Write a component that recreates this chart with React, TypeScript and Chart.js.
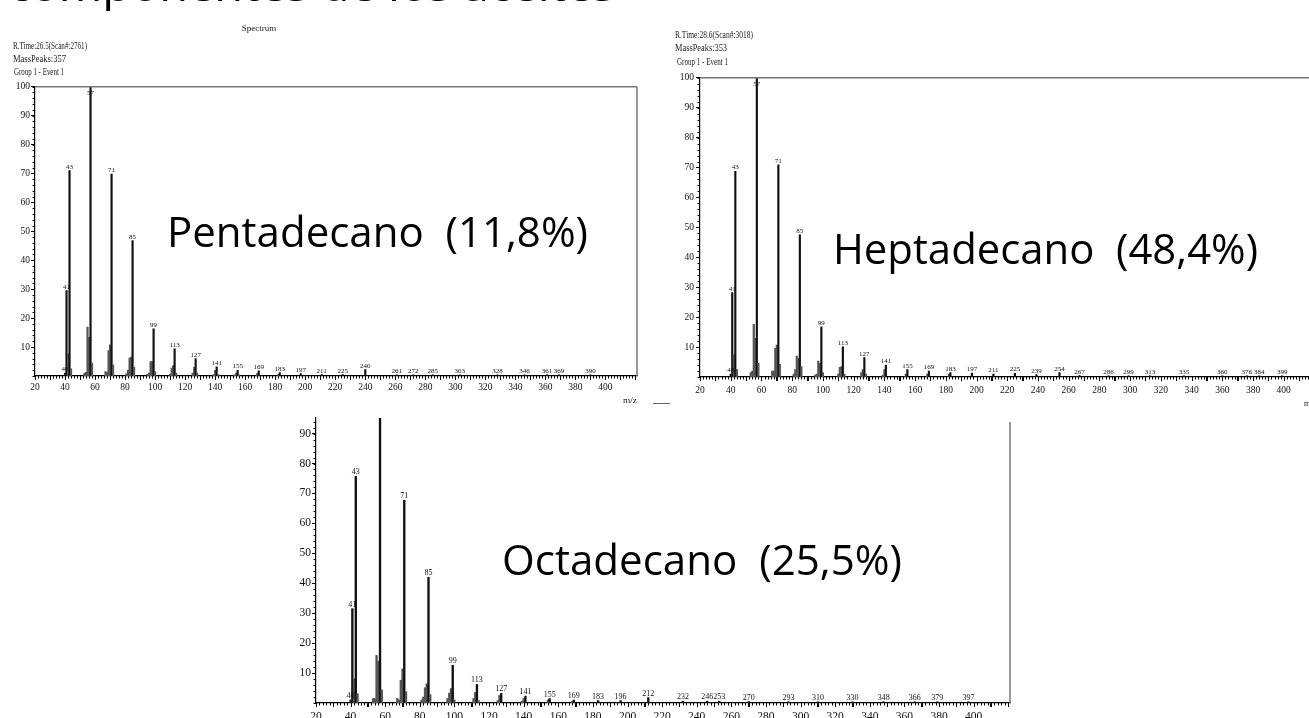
import React, { useEffect, useRef } from 'react';
import { Chart, registerables } from 'chart.js';

Chart.register(...registerables);

// ---------- axis tick labels ----------
const xTickValues = [20, 40, 60, 80, 100, 120, 140, 160, 180, 200, 220, 240, 260, 280, 300, 320, 340, 360, 380, 400];
const yTickValuesTop = [10, 20, 30, 40, 50, 60, 70, 80, 90, 100];
const yTickValuesBottom = [10, 20, 30, 40, 50, 60, 70, 80, 90];

// ---------- Pentadecano (11,8%) ----------
const pentaMz = [40, 41, 42, 43, 44, 53, 54, 55, 56, 57, 58, 67, 68, 69, 70, 71, 72, 81, 82, 83, 84, 85, 86, 95, 96, 97, 98, 99, 100, 110, 111, 112, 113, 114, 125, 126, 127, 128, 139, 140, 141, 142, 153, 154, 155, 156, 168, 169, 182, 183, 197, 211, 225, 240, 261, 272, 285, 303, 328, 346, 361, 369, 390];
const pentaInt = [1.0, 29.5, 7.7, 71, 2.5, 1, 1.3, 16.9, 13.4, 100, 4.5, 1.5, 1.2, 8.8, 10.8, 69.8, 3.9, 0.8, 2, 6.2, 6.5, 46.8, 3, 0.6, 1, 5, 5, 16.3, 1.5, 0.6, 2.7, 3.6, 9.4, 1, 1, 3, 6, 1, 0.5, 2, 3.2, 0.5, 0.4, 1, 2, 0.4, 0.8, 1.8, 0.5, 1.2, 0.8, 0.5, 0.5, 2.2, 0.4, 0.4, 0.4, 0.4, 0.4, 0.4, 0.4, 0.4, 0.4];
const pentaLabels = [40, 41, 43, 57, 71, 85, 99, 113, 127, 141, 155, 169, 183, 197, 211, 225, 240, 261, 272, 285, 303, 328, 346, 361, 369, 390];

// ---------- Heptadecano (48,4%) ----------
const heptaMz = [40, 41, 42, 43, 44, 53, 54, 55, 56, 57, 58, 67, 68, 69, 70, 71, 72, 81, 82, 83, 84, 85, 86, 95, 96, 97, 98, 99, 100, 110, 111, 112, 113, 114, 125, 126, 127, 128, 139, 140, 141, 154, 155, 168, 169, 182, 183, 197, 211, 225, 239, 254, 267, 286, 299, 313, 335, 360, 376, 384, 399];
const heptaInt = [1, 28.2, 7.4, 68.7, 2.6, 1.5, 2, 17.6, 12.9, 100, 4.6, 2, 2, 9.6, 10.7, 70.9, 4.2, 1, 2.5, 7, 6.2, 47.5, 3.5, 0.6, 1, 5.3, 4.6, 16.8, 1.5, 1, 3.2, 3.5, 10.1, 1, 1.5, 2.5, 6.5, 1, 0.6, 2.5, 4, 1, 2.5, 1, 2, 1, 1.5, 1.3, 1, 1.2, 0.8, 1.5, 0.5, 0.4, 0.4, 0.4, 0.4, 0.4, 0.4, 0.4, 0.4];
const heptaLabels = [40, 41, 43, 57, 71, 85, 99, 113, 127, 141, 155, 169, 183, 197, 211, 225, 239, 254, 267, 286, 299, 313, 335, 360, 376, 384, 399];

// ---------- Octadecano (25,5%) ----------
const octaMz = [40, 41, 42, 43, 44, 53, 54, 55, 56, 57, 58, 67, 68, 69, 70, 71, 72, 81, 82, 83, 84, 85, 86, 96, 97, 98, 99, 100, 111, 112, 113, 114, 125, 126, 127, 139, 140, 141, 154, 155, 168, 169, 183, 196, 212, 232, 246, 253, 270, 293, 310, 330, 348, 366, 379, 397];
const octaInt = [1, 31.5, 8.1, 75.7, 3.1, 1.5, 1.5, 15.9, 14, 100, 4.4, 1.5, 1, 7.6, 11.4, 67.7, 3.8, 1, 2, 5.1, 6.4, 42, 2.8, 1.5, 3.3, 4.8, 12.6, 1, 1.5, 3.5, 6.2, 0.8, 0.8, 2.5, 3.2, 0.6, 1.5, 2.3, 1, 1.5, 0.6, 1, 0.8, 0.8, 1.8, 0.6, 0.6, 0.6, 0.5, 0.4, 0.4, 0.4, 0.4, 0.4, 0.4, 0.4];
const octaLabels = [40, 41, 43, 57, 71, 85, 99, 113, 127, 141, 155, 169, 183, 196, 212, 232, 246, 253, 270, 293, 310, 330, 348, 366, 379, 397];

type Panel = {
  id: string;
  mz: number[];
  ints: number[];
  labels: number[];
  yTicks: number[];
  left: number; top: number; width: number; height: number;
  yAxisW: number; xAxisH: number; padTop: number; padRight: number;
  xMax: number; yMax: number;
  tickFont: number; labelFont: number; barW: number;
  xPad: number; yPad: number;
  topBorder: boolean; rightBorderFrom: number;
};

const panels: Panel[] = [
  {
    id: 'penta', mz: pentaMz, ints: pentaInt, labels: pentaLabels, yTicks: yTickValuesTop,
    left: 0, top: 80, width: 660, height: 330,
    yAxisW: 35, xAxisH: 34, padTop: 6, padRight: 23,
    xMax: 421, yMax: 100, tickFont: 9.5, labelFont: 7, barW: 1.5, xPad: 2, yPad: 1,
    topBorder: true, rightBorderFrom: 0,
  },
  {
    id: 'hepta', mz: heptaMz, ints: heptaInt, labels: heptaLabels, yTicks: yTickValuesTop,
    left: 660, top: 70, width: 680, height: 340,
    yAxisW: 40, xAxisH: 33, padTop: 7, padRight: 24,
    xMax: 421, yMax: 100, tickFont: 9.5, labelFont: 7, barW: 1.5, xPad: 4, yPad: 2,
    topBorder: true, rightBorderFrom: 0,
  },
  {
    id: 'octa', mz: octaMz, ints: octaInt, labels: octaLabels, yTicks: yTickValuesBottom,
    left: 270, top: 400, width: 760, height: 318,
    yAxisW: 46, xAxisH: 15, padTop: 18, padRight: 20,
    xMax: 421, yMax: 95.2, tickFont: 11.5, labelFont: 8, barW: 1.7, xPad: 3, yPad: 1,
    topBorder: false, rightBorderFrom: 4,
  },
];

function makePlugin(p: Panel) {
  return {
    id: 'spectrum-' + p.id,
    afterDatasetsDraw(chart: any) {
      const { ctx, chartArea } = chart;
      const xs = chart.scales.x;
      const ys = chart.scales.y;
      ctx.save();
      // frame (grey top / right border)
      ctx.strokeStyle = '#777';
      ctx.lineWidth = 1.5;
      ctx.beginPath();
      if (p.topBorder) {
        ctx.moveTo(chartArea.left, chartArea.top);
        ctx.lineTo(chartArea.right, chartArea.top);
      }
      ctx.moveTo(chartArea.right, chartArea.top + p.rightBorderFrom);
      ctx.lineTo(chartArea.right, chartArea.bottom);
      ctx.stroke();
      // minor x ticks
      ctx.strokeStyle = '#000';
      ctx.lineWidth = 1;
      ctx.beginPath();
      for (let v = 20; v <= p.xMax; v += 2) {
        const px = Math.round(xs.getPixelForValue(v)) + 0.5;
        const len = v % 10 === 0 ? 4 : 2.5;
        ctx.moveTo(px, chartArea.bottom);
        ctx.lineTo(px, chartArea.bottom + len);
      }
      // minor y ticks
      for (let v = 0; v <= p.yMax; v += 2) {
        const py = Math.round(ys.getPixelForValue(v)) + 0.5;
        ctx.moveTo(chartArea.left - 2.5, py);
        ctx.lineTo(chartArea.left, py);
      }
      ctx.stroke();
      // peak labels
      ctx.fillStyle = '#111';
      ctx.font = `${p.labelFont}px "Liberation Serif", serif`;
      ctx.textAlign = 'center';
      ctx.textBaseline = 'alphabetic';
      p.labels.forEach((m) => {
        const i = p.mz.indexOf(m);
        if (i < 0) return;
        const val = p.ints[i];
        if (val > p.yMax) return;
        const px = xs.getPixelForValue(m);
        let py = ys.getPixelForValue(val) - 2;
        if (py < chartArea.top + p.labelFont + 1) py = chartArea.top + p.labelFont + 1;
        ctx.fillText(String(m), px, py);
      });
      ctx.restore();
    },
  };
}

function SpectrumChart({ p }: { p: Panel }) {
  const ref = useRef<HTMLCanvasElement | null>(null);
  useEffect(() => {
    if (!ref.current) return;
    const labeledSet = new Set(p.labels);
    const points = p.mz.map((m, i) => ({ x: m, y: p.ints[i] }));
    const chart = new Chart(ref.current, {
      type: 'bar',
      data: {
        datasets: [
          {
            data: points as any,
            backgroundColor: (c: any) => (labeledSet.has(p.mz[c.dataIndex]) ? '#111' : '#555'),
            barThickness: p.barW,
            borderWidth: 0,
          },
        ],
      },
      options: {
        animation: false,
        responsive: false,
        maintainAspectRatio: false,
        layout: { padding: { top: p.padTop, right: p.padRight, bottom: 0, left: 0 } },
        plugins: { legend: { display: false }, tooltip: { enabled: false } },
        scales: {
          x: {
            type: 'linear',
            min: 20,
            max: p.xMax,
            offset: false,
            afterBuildTicks: (s: any) => {
              s.ticks = xTickValues.map((v) => ({ value: v }));
            },
            afterFit: (s: any) => {
              s.height = p.xAxisH;
            },
            grid: { drawOnChartArea: false, drawTicks: true, tickLength: 4, color: '#000', lineWidth: 1 },
            border: { display: true, color: '#000', width: 1.2 },
            ticks: {
              autoSkip: false,
              maxRotation: 0,
              padding: p.xPad,
              color: '#111',
              font: { family: '"Liberation Serif", serif', size: p.tickFont },
              callback: (v: any) => String(v),
            },
          },
          y: {
            type: 'linear',
            min: 0,
            max: p.yMax,
            afterBuildTicks: (s: any) => {
              s.ticks = p.yTicks.map((v) => ({ value: v }));
            },
            afterFit: (s: any) => {
              s.width = p.yAxisW;
            },
            grid: { drawOnChartArea: false, drawTicks: true, tickLength: 4, color: '#000', lineWidth: 1 },
            border: { display: true, color: '#000', width: 1.2 },
            ticks: {
              autoSkip: false,
              padding: p.yPad,
              color: '#111',
              font: { family: '"Liberation Serif", serif', size: p.tickFont },
              callback: (v: any) => String(v),
            },
          },
        },
      } as any,
      plugins: [makePlugin(p) as any],
    });
    return () => chart.destroy();
  }, [p]);
  return (
    <canvas
      ref={ref}
      width={p.width}
      height={p.height}
      style={{ position: 'absolute', left: p.left, top: p.top, width: p.width, height: p.height }}
    />
  );
}

const serif = '"Liberation Serif", serif';
const sans = '"Open Sans", "Liberation Sans", sans-serif';

export default function App() {
  return (
    <div
      style={{
        position: 'fixed',
        left: 0,
        top: 0,
        width: 1309,
        height: 718,
        overflow: 'hidden',
        background: '#fff',
      }}
    >
      {panels.map((p) => (
        <SpectrumChart key={p.id} p={p} />
      ))}
      <svg
        width={1309}
        height={718}
        style={{ position: 'absolute', left: 0, top: 0, pointerEvents: 'none' }}
      >
        {/* cut-off slide title */}
        <text x={8} y={0.5} fontFamily={sans} fontSize={40} fill="#000" textLength={607} lengthAdjust="spacingAndGlyphs">
          componentes de los aceites
        </text>
        {/* panel 1 header */}
        <text x={259} y={31} fontFamily={serif} fontSize={9} fill="#222" textAnchor="middle">Spectrum</text>
        <text x={13} y={49} fontFamily={serif} fontSize={10} fill="#222" textLength={74} lengthAdjust="spacingAndGlyphs">R.Time:26.5(Scan#:2761)</text>
        <text x={13} y={62} fontFamily={serif} fontSize={10} fill="#222" textLength={53} lengthAdjust="spacingAndGlyphs">MassPeaks:357</text>
        <text x={14} y={75} fontFamily={serif} fontSize={10} fill="#222" textLength={50} lengthAdjust="spacingAndGlyphs">Group 1 - Event 1</text>
        <text x={623} y={403} fontFamily={serif} fontSize={8} fill="#222" textLength={14} lengthAdjust="spacingAndGlyphs">m/z</text>
        <line x1={653} y1={403.5} x2={670} y2={403.5} stroke="#666" strokeWidth={1} />
        {/* panel 2 header */}
        <text x={675} y={38} fontFamily={serif} fontSize={10} fill="#222" textLength={78} lengthAdjust="spacingAndGlyphs">R.Time:28.6(Scan#:3018)</text>
        <text x={675} y={51} fontFamily={serif} fontSize={10} fill="#222" textLength={52} lengthAdjust="spacingAndGlyphs">MassPeaks:353</text>
        <text x={677} y={65} fontFamily={serif} fontSize={10} fill="#222" textLength={51} lengthAdjust="spacingAndGlyphs">Group 1 - Event 1</text>
        <text x={1304} y={406} fontFamily={serif} fontSize={8} fill="#222">m/z</text>
        {/* compound labels */}
        <text x={167} y={247} fontFamily={sans} fontSize={42} fill="#000" textLength={421} lengthAdjust="spacingAndGlyphs" style={{ whiteSpace: 'pre' }}>
          Pentadecano  (11,8%)
        </text>
        <text x={833} y={264} fontFamily={sans} fontSize={42} fill="#000" textLength={425} lengthAdjust="spacingAndGlyphs" style={{ whiteSpace: 'pre' }}>
          Heptadecano  (48,4%)
        </text>
        <text x={502} y={575} fontFamily={sans} fontSize={42} fill="#000" textLength={400} lengthAdjust="spacingAndGlyphs" style={{ whiteSpace: 'pre' }}>
          Octadecano  (25,5%)
        </text>
      </svg>
    </div>
  );
}
